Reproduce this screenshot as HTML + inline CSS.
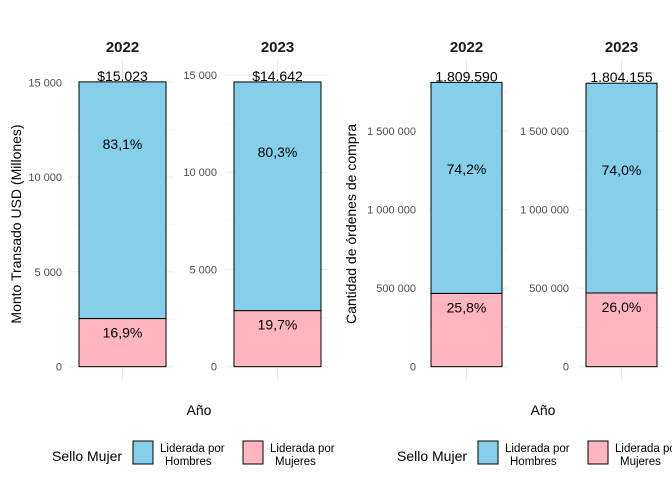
<!DOCTYPE html>
<html><head><meta charset="utf-8"><style>
body{margin:0;background:#fff;}
svg{display:block;font-family:"Liberation Sans",Arial,sans-serif;}
</style></head><body>
<svg id="chart" width="672" height="480"></svg>
<script>
const years = ["2022","2023"];
const montoHombres = [12484, 11758];
const montoMujeres = [2539, 2884];
const montoTotalLabels = ["$15.023","$14.642"];
const montoPctH = [83.1, 80.3];
const montoPctM = [16.9, 19.7];
const montoTicks = [0,5000,10000,15000];
const montoTickLabels = ["0","5 000","10 000","15 000"];
const ordHombres = [1342715, 1335075];
const ordMujeres = [466875, 469080];
const ordTotalLabels = ["1.809.590","1.804.155"];
const ordPctH = [74.2, 74.0];
const ordPctM = [25.8, 26.0];
const ordTicks = [0,500000,1000000,1500000];
const ordTickLabels = ["0","500 000","1 000 000","1 500 000"];

const NS="http://www.w3.org/2000/svg";
const svg=document.getElementById('chart');
function mk(t,a,p){const e=document.createElementNS(NS,t);for(const k in a)e.setAttribute(k,a[k]);(p||svg).appendChild(e);return e;}
const fmtPct=v=>v.toFixed(1).replace('.',',')+'%';

const panels=[
 {key:"monto",i:0,gx0:70,gx1:174,bx0:79,bx1:166,tickR:62,scale:284.4/15000,H:montoHombres,M:montoMujeres,T:montoTotalLabels,PH:montoPctH,PM:montoPctM,ticks:montoTicks,tl:montoTickLabels},
 {key:"monto",i:1,gx0:225,gx1:328,bx0:234,bx1:321,tickR:217,scale:291.7/15000,H:montoHombres,M:montoMujeres,T:montoTotalLabels,PH:montoPctH,PM:montoPctM,ticks:montoTicks,tl:montoTickLabels},
 {key:"ordenes",i:0,gx0:428,gx1:508,bx0:431,bx1:502,tickR:416,scale:235.7/1500000,H:ordHombres,M:ordMujeres,T:ordTotalLabels,PH:ordPctH,PM:ordPctM,ticks:ordTicks,tl:ordTickLabels},
 {key:"ordenes",i:1,gx0:578,gx1:663,bx0:586,bx1:657,tickR:569,scale:235.7/1500000,H:ordHombres,M:ordMujeres,T:ordTotalLabels,PH:ordPctH,PM:ordPctM,ticks:ordTicks,tl:ordTickLabels}
];
const y0=366.7;
panels.forEach(p=>{
  const g=mk('g',{});
  
  
  const y=v=>y0-v*p.scale;
  const cx=(p.bx0+p.bx1)/2;
  for(let k=0;k<p.ticks.length;k++){
    const step=p.ticks[1]-p.ticks[0];
    const mv=p.ticks[k]+step/2;
    if(y(mv)>60){const l=mk('line',{x1:p.gx0,x2:p.gx1,y1:y(mv),y2:y(mv),stroke:'#f2f2f2','stroke-width':0.6},g);}
  }
  p.ticks.forEach((t,k)=>{
    const l=mk('line',{x1:p.gx0,x2:p.gx1,y1:y(t),y2:y(t),stroke:'#ebebeb','stroke-width':1},g);
    
    
    const tx=mk('text',{x:p.tickR,y:y(t)+4,'text-anchor':'end','font-size':11,fill:'#4d4d4d'},g);
    tx.textContent=p.tl[k];
    
    
  });
  const vl=mk('line',{x1:cx,x2:cx,y1:60,y2:380,stroke:'#ebebeb','stroke-width':1},g);
  
  
  const h=p.H[p.i], m=p.M[p.i];
  const rm=mk('rect',{x:p.bx0,y:y(m),width:p.bx1-p.bx0,height:y0-y(m),fill:'#FFB6C1',stroke:'#000','stroke-width':1},g);
  
  
  const rh=mk('rect',{x:p.bx0,y:y(m+h),width:p.bx1-p.bx0,height:y(m)-y(m+h),fill:'#87CEEB',stroke:'#000','stroke-width':1},g);
  
  
  const tt=mk('text',{x:cx,y:y(m+h)-1,'text-anchor':'middle','font-size':14,fill:'#000'},g);
  tt.textContent=p.T[p.i];
  
  
  const ph=mk('text',{x:cx,y:149+(83.1-p.PH[p.i])*2.83,'text-anchor':'middle','font-size':14,fill:'#000'},g);
  ph.textContent=fmtPct(p.PH[p.i]);
  
  
  const pm=mk('text',{x:cx,y:y(m)+19,'text-anchor':'middle','font-size':14,fill:'#000'},g);
  pm.textContent=fmtPct(p.PM[p.i]);
  
  
  const st=mk('text',{x:cx,y:52,'text-anchor':'middle','font-size':15,'font-weight':'bold',fill:'#1a1a1a'},g);
  st.textContent=years[p.i];
  
  
});
const yt1=mk('text',{x:0,y:0,transform:'translate(21,224) rotate(-90)','text-anchor':'middle','font-size':14,fill:'#000'});
yt1.textContent='Monto Transado USD (Millones)';


const yt2=mk('text',{x:0,y:0,transform:'translate(356,224) rotate(-90)','text-anchor':'middle','font-size':14,fill:'#000'});
yt2.textContent='Cantidad de órdenes de compra';


[199,543].forEach(x=>{
  const a=mk('text',{x:x,y:415,'text-anchor':'middle','font-size':14,fill:'#000'});
  a.textContent='Año';
  
  
});
[0,345].forEach(o=>{
  const g=mk('g',{});
  
  
  const t=mk('text',{x:52+o,y:461,'font-size':14,fill:'#000'},g);
  t.textContent='Sello Mujer';
  
  
  [['#87CEEB','Hombres',133],['#FFB6C1','Mujeres',243]].forEach(e=>{
    const r=mk('rect',{x:e[2]+o,y:441,width:20,height:23,fill:e[0],stroke:'#000','stroke-width':1},g);
    
    
    const l1=mk('text',{x:e[2]+o+27,y:452,'font-size':11.5,fill:'#000'},g);
    l1.textContent='Liderada por';
    
    
    const l2=mk('text',{x:e[2]+o+32,y:465,'font-size':11.5,fill:'#000'},g);
    l2.textContent=e[1];
    
    
  });
});
</script>
</body></html>
